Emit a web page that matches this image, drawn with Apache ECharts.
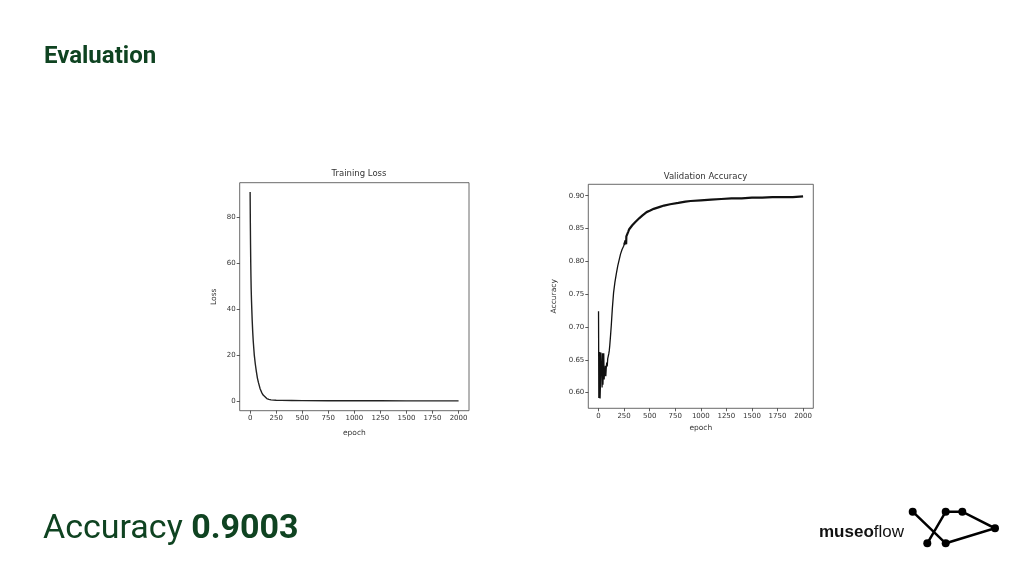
<!DOCTYPE html>
<html>
<head>
<meta charset="utf-8">
<script src="https://cdn.jsdelivr.net/npm/echarts@6/dist/echarts.min.js"></script>
<style>html,body{margin:0;padding:0;background:#fff}#c{width:1024px;height:576px}</style>
</head>
<body>
<div id="c"></div>
<script>
// ---- data ----
const lossEpochs = [0,2,4,6,8,10,13,16,20,25,30,35,40,50,60,70,80,95,110,125,140,160,180,200,225,250,300,400,500,750,1000,1250,1500,1750,2000];
const lossValues = [91,78,68,60,54,49,44,40,35,30,26,23,20,16,12.8,10,8,5.5,3.8,2.6,1.8,1.1,0.7,0.5,0.4,0.35,0.3,0.25,0.2,0.15,0.12,0.1,0.09,0.08,0.08];

const accEarlyEpochs = [0,3,7,11,15,19,23,27,31,35,39,43,47,51,55,59,63,67,71,75,80,85,90,95,100,105,110,118,125,135,147,160,175,188,200,215,230,245,250];
const accEarlyValues = [0.724,0.592,0.594,0.662,0.591,0.614,0.661,0.636,0.640,0.608,0.660,0.612,0.636,0.660,0.620,0.634,0.626,0.641,0.625,0.636,0.646,0.640,0.652,0.655,0.659,0.664,0.672,0.688,0.703,0.728,0.752,0.768,0.782,0.793,0.801,0.811,0.818,0.823,0.825];
const accLateEpochs = [250,265,270,272,290,300,330,360,400,430,470,500,540,600,640,700,780,850,900,1000,1100,1200,1300,1400,1500,1600,1700,1800,1900,2000];
const accLateValues = [0.825,0.832,0.826,0.838,0.845,0.849,0.855,0.860,0.866,0.870,0.875,0.877,0.880,0.883,0.885,0.887,0.889,0.891,0.892,0.893,0.894,0.895,0.896,0.896,0.897,0.897,0.898,0.898,0.898,0.899];

const xTicks = [0,250,500,750,1000,1250,1500,1750,2000];
const lossTicks = [0,20,40,60,80];
const accTicks = [0.60,0.65,0.70,0.75,0.80,0.85,0.90];

const pair = (xs, ys) => xs.map((x, i) => [x, ys[i]]);

const tickFont = {fontFamily: 'DejaVu Sans', fontSize: 7, color: '#333'};
function xAx(idx) {
  return {
    gridIndex: idx, type: 'value', min: -100, max: 2100,
    name: 'epoch', nameLocation: 'middle', nameGap: 18,
    nameTextStyle: {fontFamily: 'DejaVu Sans', fontSize: 7.5, color: '#333'},
    axisLine: {show: false, onZero: false}, splitLine: {show: false},
    axisTick: {show: true, length: 3, customValues: xTicks, lineStyle: {color: '#333', width: 0.8}},
    axisLabel: Object.assign({customValues: xTicks, margin: 4, formatter: v => String(v)}, tickFont)
  };
}

const chart = echarts.init(document.getElementById('c'), null, {renderer: 'canvas'});
chart.setOption({
  backgroundColor: '#ffffff',
  animation: false,
  title: [
    {text: 'Training Loss', left: 354, top: 164, textAlign: 'center',
     textStyle: {fontFamily: 'DejaVu Sans', fontSize: 8.5, fontWeight: 'normal', color: '#333'}},
    {text: 'Validation Accuracy', left: 700.5, top: 167, textAlign: 'center',
     textStyle: {fontFamily: 'DejaVu Sans', fontSize: 8.5, fontWeight: 'normal', color: '#333'}}
  ],
  grid: [
    {left: 239.7, top: 182.7, width: 229.3, height: 228, show: true, borderColor: '#444', borderWidth: 0.8, backgroundColor: '#fff'},
    {left: 588.3, top: 184.3, width: 225, height: 224, show: true, borderColor: '#444', borderWidth: 0.8, backgroundColor: '#fff'}
  ],
  xAxis: [xAx(0), Object.assign(xAx(1), {nameGap: 16})],
  yAxis: [
    {gridIndex: 0, type: 'value', min: -4.2, max: 95,
     name: 'Loss', nameLocation: 'middle', nameGap: 22,
     nameTextStyle: {fontFamily: 'DejaVu Sans', fontSize: 7.5, color: '#333'},
     axisLine: {show: false, onZero: false}, splitLine: {show: false},
     axisTick: {show: true, length: 3, customValues: lossTicks, lineStyle: {color: '#333', width: 0.8}},
     axisLabel: Object.assign({customValues: lossTicks, margin: 4}, tickFont)},
    {gridIndex: 1, type: 'value', min: 0.5762, max: 0.9174,
     name: 'Accuracy', nameLocation: 'middle', nameGap: 30,
     nameTextStyle: {fontFamily: 'DejaVu Sans', fontSize: 7.5, color: '#333'},
     axisLine: {show: false, onZero: false}, splitLine: {show: false},
     axisTick: {show: true, length: 3, customValues: accTicks, lineStyle: {color: '#333', width: 0.8}},
     axisLabel: Object.assign({customValues: accTicks, margin: 4, formatter: v => v.toFixed(2)}, tickFont)}
  ],
  series: [
    {type: 'line', xAxisIndex: 0, yAxisIndex: 0, data: pair(lossEpochs, lossValues), showSymbol: false, smooth: false,
     lineStyle: {color: '#222', width: 1.4}},
    {type: 'line', xAxisIndex: 1, yAxisIndex: 1, data: pair(accEarlyEpochs, accEarlyValues), showSymbol: false,
     lineStyle: {color: '#111', width: 1.3}},
    {type: 'line', xAxisIndex: 1, yAxisIndex: 1, data: pair(accLateEpochs, accLateValues), showSymbol: false,
     lineStyle: {color: '#111', width: 2.2}}
  ],
  graphic: [
    {type: 'text', left: 44, top: 45, style: {text: 'Evaluation', fontFamily: 'Roboto', fontWeight: 'bold', fontSize: 24, fill: '#0f4321'}},
    {type: 'text', left: 43, top: 512, style: {
      text: '{a|Accuracy }{b|0.9003}',
      rich: {
        a: {fontFamily: 'Roboto', fontSize: 34, fill: '#0f4321', fontWeight: 'normal'},
        b: {fontFamily: 'Roboto', fontSize: 34, fill: '#0f4321', fontWeight: 'bold'}
      }}},
    {type: 'text', left: 819, top: 524, style: {
      text: '{a|museo}{b|flow}',
      rich: {
        a: {fontFamily: 'Liberation Sans', fontSize: 17, fontWeight: 'bold', fill: '#111'},
        b: {fontFamily: 'Liberation Sans', fontSize: 17, fontWeight: 'normal', fill: '#111'}
      }}},
    {type: 'polyline', shape: {points: [[912.7,511.7],[945.7,543.3],[995,528.3],[962.3,511.7],[945.7,511.7],[927.3,543.3]]},
     style: {stroke: '#000', lineWidth: 2.5, fill: null}},
    {type: 'circle', shape: {cx: 912.7, cy: 511.7, r: 4}, style: {fill: '#000'}},
    {type: 'circle', shape: {cx: 945.7, cy: 511.7, r: 4}, style: {fill: '#000'}},
    {type: 'circle', shape: {cx: 962.3, cy: 511.7, r: 4}, style: {fill: '#000'}},
    {type: 'circle', shape: {cx: 995, cy: 528.3, r: 4}, style: {fill: '#000'}},
    {type: 'circle', shape: {cx: 945.7, cy: 543.3, r: 4}, style: {fill: '#000'}},
    {type: 'circle', shape: {cx: 927.3, cy: 543.3, r: 4}, style: {fill: '#000'}}
  ]
});
</script>
</body>
</html>
